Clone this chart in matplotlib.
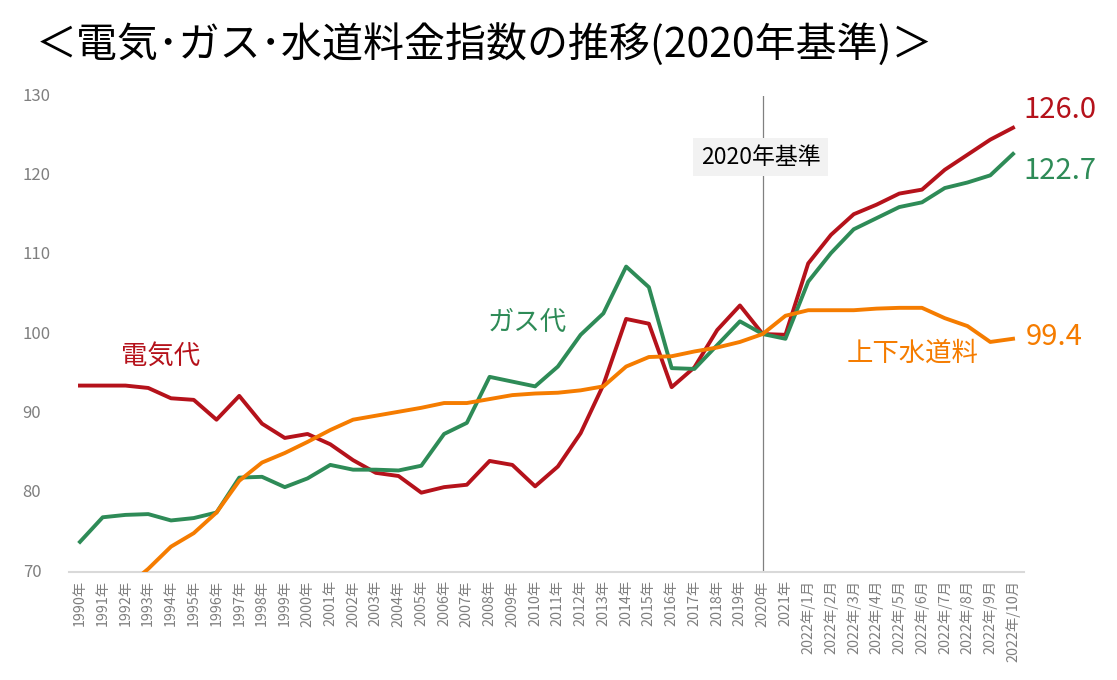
import numpy as np
import matplotlib
matplotlib.use('Agg')
import matplotlib.pyplot as plt

plt.rcParams['font.family'] = ['Noto Sans CJK JP', 'DejaVu Sans']

# x-axis categories: yearly to 2021, then monthly for 2022
years = ['{}年'.format(y) for y in range(1990, 2022)]
months = ['2022年/{}月'.format(m) for m in range(1, 11)]
labels = years + months

# index values (2020 = 100)
electric = [93.5, 93.5, 93.5, 93.2, 91.9, 91.7, 89.2, 92.2, 88.7, 86.9,
            87.4, 86.1, 84.1, 82.5, 82.1, 80.0, 80.7, 81.0, 84.0, 83.5,
            80.8, 83.3, 87.5, 93.6, 101.9, 101.3, 93.3, 95.8, 100.5, 103.6,
            100.0, 99.9,
            108.9, 112.5, 115.1, 116.3, 117.7, 118.2, 120.7, 122.6, 124.5, 126.0]
gas = [73.8, 76.9, 77.2, 77.3, 76.5, 76.8, 77.5, 81.9, 82.0, 80.7,
       81.8, 83.5, 82.9, 82.9, 82.8, 83.4, 87.4, 88.8, 94.6, 94.0,
       93.4, 95.9, 99.9, 102.6, 108.5, 105.9, 95.7, 95.6, 98.6, 101.6,
       100.0, 99.4,
       106.6, 110.2, 113.2, 114.6, 116.0, 116.6, 118.4, 119.1, 120.0, 122.7]
water = [64.0, 66.0, 68.0, 70.4, 73.2, 74.9, 77.5, 81.5, 83.8, 85.0,
         86.4, 87.9, 89.2, 89.7, 90.2, 90.7, 91.3, 91.3, 91.8, 92.3,
         92.5, 92.6, 92.9, 93.4, 95.9, 97.1, 97.2, 97.8, 98.3, 99.0,
         100.0, 102.3,
         103.0, 103.0, 103.0, 103.2, 103.3, 103.3, 102.0, 101.0, 99.0, 99.4]

c_red = '#B5121B'
c_green = '#2E8B57'
c_orange = '#F57C00'

x = np.arange(len(labels))

fig = plt.figure(figsize=(11.17, 6.8), dpi=100)
ax = fig.add_axes([0.0614, 0.1588, 0.8557, 0.70])

ax.plot(x, electric, color=c_red, lw=2.8, zorder=3)
ax.plot(x, gas, color=c_green, lw=2.8, zorder=3)
ax.plot(x, water, color=c_orange, lw=2.8, zorder=4)

ax.set_xlim(-0.5, len(labels) - 0.5)
ax.set_ylim(70, 130)
ax.set_yticks(np.arange(70, 131, 10))
ax.set_xticks(x)
ax.set_xticklabels(labels, rotation=90, fontsize=10.3, color='#7F7F7F')
ax.tick_params(axis='y', length=0, labelsize=12, labelcolor='#7F7F7F', pad=0)
ax.tick_params(axis='x', length=0, pad=6)
for lab in ax.get_yticklabels():
    lab.set_horizontalalignment('left')
    lab.set_x(-0.048)
    lab.set_verticalalignment('center')

for s in ['top', 'right', 'left']:
    ax.spines[s].set_visible(False)
ax.spines['bottom'].set_color('#D9D9D9')
ax.spines['bottom'].set_linewidth(1.5)

# 2020 reference line
i2020 = labels.index('2020年')
ax.axvline(i2020, color='#808080', lw=0.9, zorder=2)
ax.text(i2020 - 0.1, 122.3, '2020年基準', fontsize=16.5, color='#000000',
        ha='center', va='center', zorder=5,
        bbox=dict(boxstyle='square,pad=0.32', fc='#F2F2F2', ec='none'))

# series labels
ax.text(1.8, 97.2, '電気代', color=c_red, fontsize=19, ha='left', va='center')
ax.text(17.9, 101.4, 'ガス代', color=c_green, fontsize=19, ha='left', va='center')
ax.text(33.7, 97.6, '上下水道料', color=c_orange, fontsize=19, ha='left', va='center')

last = len(labels) - 1
ax.text(last + 0.45, electric[-1] + 2.2, '{:.1f}'.format(electric[-1]),
        color=c_red, fontsize=21, ha='left', va='center')
ax.text(last + 0.45, gas[-1] - 2.1, '{:.1f}'.format(gas[-1]),
        color=c_green, fontsize=21, ha='left', va='center')
ax.text(last + 0.55, water[-1] + 0.2, '{:.1f}'.format(water[-1]),
        color=c_orange, fontsize=21, ha='left', va='center')

fig.text(0.032, 0.935, '＜電気･ガス･水道料金指数の推移(2020年基準)＞',
         fontsize=29.5, ha='left', va='center', color='#000000')

fig.savefig('out.png', dpi=100)
